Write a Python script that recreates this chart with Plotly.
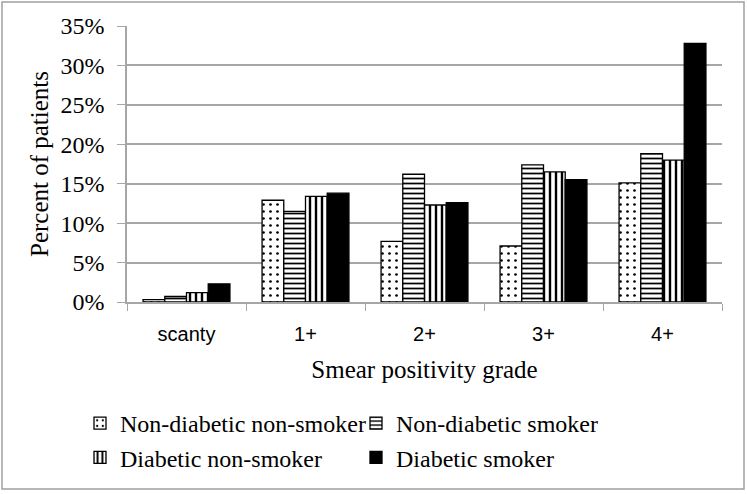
import plotly.graph_objects as go

categories = ["scanty", "1+", "2+", "3+", "4+"]
series_names = ["Non-diabetic non-smoker", "Non-diabetic smoker", "Diabetic non-smoker", "Diabetic smoker"]
non_diabetic_non_smoker = [0.3, 12.9, 7.7, 7.1, 15.1]
non_diabetic_smoker = [0.7, 11.5, 16.2, 17.4, 18.8]
diabetic_non_smoker = [1.2, 13.4, 12.3, 16.5, 18.0]
diabetic_smoker = [2.3, 13.8, 12.6, 15.5, 32.8]
y_max = 35
y_step = 5

W, H = 747, 494
L, R, T, B = 127, 25, 26, 192

serif = "Liberation Serif"
grid = "#a6a6a6"

patterns = [
    dict(shape=".", fgcolor="black", bgcolor="white", size=7, solidity=0.12, fillmode="replace"),
    dict(shape="-", fgcolor="black", bgcolor="white", size=5, solidity=0.35, fillmode="replace"),
    dict(shape="|", fgcolor="black", bgcolor="white", size=6, solidity=0.4, fillmode="replace"),
    None,
]
values = [non_diabetic_non_smoker, non_diabetic_smoker, diabetic_non_smoker, diabetic_smoker]

fig = go.Figure()
for name, vals, pat in zip(series_names, values, patterns):
    marker = dict(color="white" if pat else "black", line=dict(color="black", width=1.3))
    if pat:
        marker["pattern"] = pat
    fig.add_trace(go.Bar(x=categories, y=vals, name=name, marker=marker))

pw = W - L - R
ph = H - T - B
def px_x(p):
    return (p - L) / pw
def px_y(p):
    return (H - B - p) / ph

fig.add_shape(type="rect", xref="paper", yref="paper",
              x0=px_x(2), x1=px_x(744), y0=px_y(2), y1=px_y(489),
              line=dict(color="#a0a0a0", width=1.5), layer="below")

fig.update_layout(
    width=W, height=H,
    margin=dict(l=L, r=R, t=T, b=B),
    paper_bgcolor="white", plot_bgcolor="white",
    barmode="group", bargap=0.27, bargroupgap=0,
    font=dict(family=serif, size=24, color="black"),
    showlegend=True,
    legend=dict(
        orientation="h", xref="container", yref="container",
        x=80 / W, y=1 - 401 / H, xanchor="left", yanchor="top",
        entrywidth=231, entrywidthmode="pixels",
        font=dict(family=serif, size=24, color="black"),
        traceorder="normal", itemwidth=30,
    ),
    xaxis=dict(
        showline=True, linecolor=grid, linewidth=1.5,
        ticks="outside", tickson="boundaries", ticklen=7, tickcolor=grid,
        ticklabelstandoff=13,
        tickfont=dict(family="Liberation Sans", size=20, color="black"),
        title=dict(text="Smear positivity grade", font=dict(family=serif, size=25), standoff=17),
        showgrid=False,
    ),
    yaxis=dict(
        range=[0, y_max], tick0=0, dtick=y_step, ticksuffix="%",
        showline=True, linecolor=grid, linewidth=1.5,
        ticks="outside", ticklen=8, tickcolor=grid,
        ticklabelstandoff=8,
        showgrid=True, gridcolor=grid, gridwidth=1.5,
        zeroline=False,
        tickfont=dict(family=serif, size=24, color="black"),
        title=dict(text="Percent of patients", font=dict(family=serif, size=25), standoff=5),
    ),
)

fig.write_html("out.html", config={"displayModeBar": False},
               post_script="document.body.style.margin='0';")
